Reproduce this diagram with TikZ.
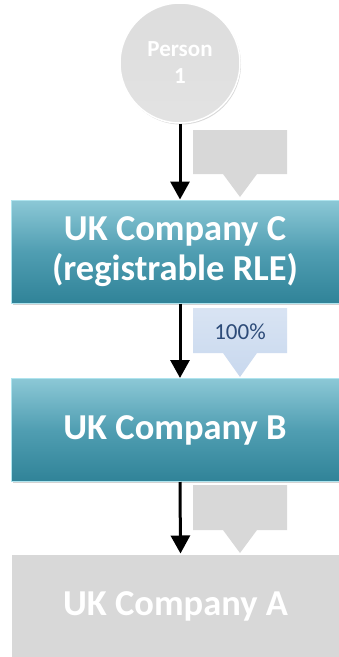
\documentclass[tikz,border=0pt]{standalone}
\usepackage{fontspec}
\setmainfont{Carlito}
\usetikzlibrary{arrows.meta,shadows}
\definecolor{tealtop}{RGB}{140,200,214}
\definecolor{tealmid}{RGB}{80,158,178}
\definecolor{tealbot}{RGB}{48,131,152}
\definecolor{tealedge}{RGB}{175,228,238}
\definecolor{boxgrey}{RGB}{216,216,216}
\definecolor{circgrey}{RGB}{206,206,206}
\definecolor{pctblue}{RGB}{200,216,238}
\definecolor{pcttext}{RGB}{45,75,120}
\tikzset{
  tealbox/.style={rectangle, minimum width=328pt, minimum height=103pt, inner sep=0pt,
    top color=tealtop, bottom color=tealbot, middle color=tealmid,
    draw=tealedge, line width=1pt, text=white, font=\bfseries\fontsize{36.5}{40}\selectfont,
    align=center, drop shadow={shadow xshift=1.5pt, shadow yshift=-1.5pt, opacity=0.35}},
  greybox/.style={rectangle, minimum width=328pt, minimum height=104pt, inner sep=0pt,
    fill=boxgrey, draw=white, line width=1pt, text=white,
    font=\bfseries\fontsize{36.5}{40}\selectfont, align=center},
  person/.style={circle, minimum size=120pt, inner sep=0pt, top color=circgrey!70, bottom color=circgrey!110!black,
    draw=white, line width=1.5pt, text=white, align=center,
    font=\bfseries\fontsize{23}{27}\selectfont,
    drop shadow={shadow xshift=1pt, shadow yshift=-1.5pt, opacity=0.3}},
  conn/.style={black, line width=3pt, -{Triangle[width=19pt,length=18pt]}},
  greyarrow/.style={fill=boxgrey},
  bluearrow/.style={top color=pctblue!70, bottom color=pctblue},
  pct/.style={text=pcttext, font=\fontsize{23}{27}\selectfont, inner sep=0pt}
}
\begin{document}
\begin{tikzpicture}[x=1pt,y=-1pt]
\useasboundingbox (0,0) rectangle (339,657);
\fill[white] (0,0) rectangle (339,657);
% block arrows
\path[greyarrow] (193,130) -- (287,130) -- (287,174) -- (257,174) -- (240,197) -- (223,174) -- (193,174) -- cycle;
\path[bluearrow] (193,308) -- (287,308) -- (287,353) -- (257,353) -- (240,377) -- (223,353) -- (193,353) -- cycle;
\path[greyarrow] (193,485) -- (287,485) -- (287,530) -- (257,530) -- (240,553) -- (223,530) -- (193,530) -- cycle;
\node[pct] (pctlabel) at (240,332) {100\%};
% nodes
\node[person] (p1) at (180,63) {Person\\1};
\node[tealbox] (c) at (175,251.5) {UK Company C\\(registrable RLE)};
\node[tealbox] (b) at (175,430) {UK Company B};
\node[greybox] (a) at (175.5,606) {UK Company A};
% connectors
\draw[conn] (p1.south) -- (p1.south |- c.north);
\draw[conn] ([xshift=5pt]c.south) -- ([xshift=5pt]b.north);
\draw[conn] ([xshift=5pt]b.south) -- ([xshift=5pt]a.north);
\end{tikzpicture}
\end{document}
